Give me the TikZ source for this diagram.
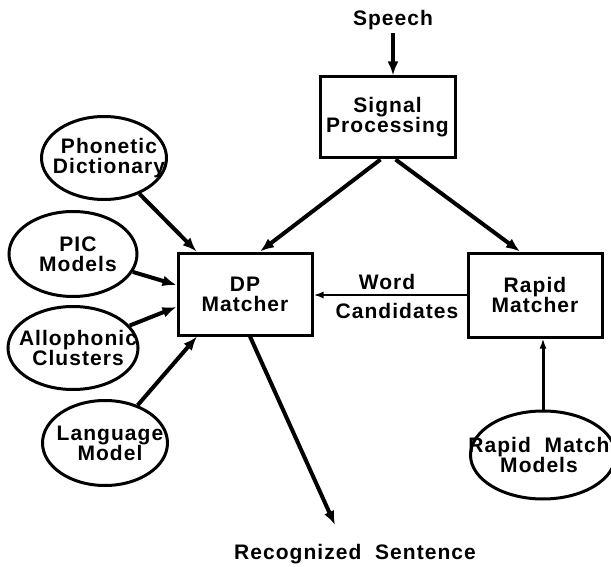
\documentclass[tikz,border=0pt]{standalone}
\usepackage{fontspec}
\setmainfont{Liberation Sans}[LetterSpace=5]
\usetikzlibrary{shapes.geometric,arrows.meta}

\begin{document}
\begin{tikzpicture}[
    x=1pt,y=-1pt,
    every node/.style={font=\fontsize{21}{20}\selectfont\bfseries, align=center},
    box/.style={draw, line width=3pt, minimum width=134pt, minimum height=82pt, inner sep=0pt},
    oval/.style={draw, ellipse, line width=3pt, inner sep=0pt},
    txt/.style={xshift=5pt},
    flow/.style={line width=4pt, -{Latex[length=14pt,width=11pt]}},
    thin/.style={line width=2.5pt, -{Latex[length=10pt,width=7pt]}}
]
    \useasboundingbox (0,0) rectangle (611,567);

    \node (speech) at (393,20) {Speech};
    \node[box, minimum width=135pt, minimum height=81pt] (sig) at (387.5,117.5) {Signal\\Processing};
    \node[box] (dp) at (245,294) {DP\\Matcher};
    \node[box, minimum height=84pt] (rapid) at (535,295) {Rapid\\Matcher};

    \node[oval, minimum width=125pt, minimum height=83pt, label={[txt]center:Phonetic\\Dictionary}] (phon) at (104,158) {};
    \node[oval, minimum width=128pt, minimum height=85pt, label={[txt]center:PIC\\Models}] (pic) at (73,254) {};
    \node[oval, minimum width=130pt, minimum height=83pt, label={[txt]center:Allophonic\\Clusters}] (allo) at (73,348) {};
    \node[oval, minimum width=125pt, minimum height=85pt, label={[txt]center:Language\\Model}] (lang) at (105,443) {};
    \node[oval, minimum width=145pt, minimum height=88pt, label={[xshift=-4pt]center:Rapid~~Match\\Models}] (rmm) at (543,455) {};

    \node (word) at (387,282) {Word};
    \node (cand) at (397,311) {Candidates};
    \node (rec) at (355,554) {Recognized~~Sentence};
    \coordinate (recin) at (335,525);

    \draw[flow] (speech.south) -- (speech.south |- sig.north);
    \draw[flow] ([xshift=-7pt]sig.south) -- ([xshift=15pt]dp.north);
    \draw[flow] ([xshift=8pt]sig.south) -- ([xshift=-15pt]rapid.north);
    \draw[thin] (rapid.west) -- (rapid.west -| dp.east);
    \draw[thin, line width=3pt] (rmm.north) -- (rmm.north |- rapid.south);

    \draw[flow] (phon) -- ([xshift=20pt]dp.north west);
    \draw[flow] (pic) -- ([yshift=9pt]dp.west);
    \draw[flow] (allo) -- ([yshift=-13pt]dp.west);
    \draw[flow] (lang) -- ([xshift=-48pt]dp.south);
    \draw[flow] ([xshift=5pt]dp.south) -- (recin);
\end{tikzpicture}
\end{document}
